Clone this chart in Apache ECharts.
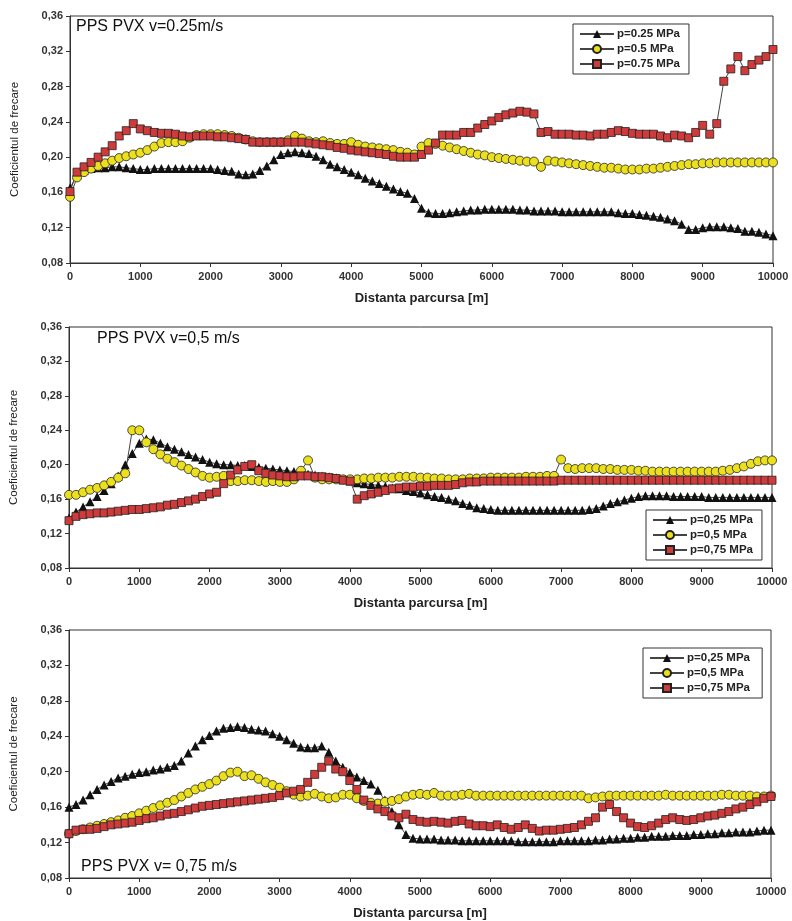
<!DOCTYPE html>
<html>
<head>
<meta charset="utf-8">
<script src="https://cdn.jsdelivr.net/npm/echarts@6/dist/echarts.min.js"></script>
<style>
  html, body { margin: 0; padding: 0; background: #fff; }
  #chart { width: 792px; height: 921px; }
</style>
</head>
<body>
<div id="chart"></div>
<script>
// Sampling distances [m]
const distance = [0,100,200,300,400,500,600,700,800,900,1000,1100,1200,1300,1400,1500,1600,1700,1800,1900,2000,2100,2200,2300,2400,2500,2600,2700,2800,2900,3000,3100,3200,3300,3400,3500,3600,3700,3800,3900,4000,4100,4200,4300,4400,4500,4600,4700,4800,4900,5000,5100,5200,5300,5400,5500,5600,5700,5800,5900,6000,6100,6200,6300,6400,6500,6600,6700,6800,6900,7000,7100,7200,7300,7400,7500,7600,7700,7800,7900,8000,8100,8200,8300,8400,8500,8600,8700,8800,8900,9000,9100,9200,9300,9400,9500,9600,9700,9800,9900,10000];

const xTicks = [0,1000,2000,3000,4000,5000,6000,7000,8000,9000,10000];
const yTicks = [0.08,0.12,0.16,0.20,0.24,0.28,0.32,0.36];

const panelTitles = ["PPS PVX v=0.25m/s", "PPS PVX v=0,5 m/s", "PPS PVX v= 0,75 m/s"];
const legendNames1 = ["p=0.25 MPa", "p=0.5 MPa", "p=0.75 MPa"];
const legendNames2 = ["p=0,25 MPa", "p=0,5 MPa", "p=0,75 MPa"];
const legendNames3 = ["p=0,25 MPa ", "p=0,5 MPa ", "p=0,75 MPa "];

// Panel 1: v = 0.25 m/s
const p1_025 = [0.165,0.180,0.185,0.187,0.188,0.188,0.189,0.189,0.188,0.187,0.186,0.186,0.187,0.187,0.187,0.187,0.187,0.187,0.187,0.187,0.187,0.186,0.185,0.184,0.181,0.180,0.181,0.185,0.190,0.197,0.203,0.205,0.206,0.205,0.204,0.201,0.197,0.192,0.189,0.186,0.183,0.180,0.176,0.173,0.170,0.167,0.164,0.161,0.159,0.153,0.142,0.137,0.136,0.136,0.137,0.138,0.139,0.140,0.140,0.141,0.141,0.141,0.141,0.141,0.140,0.140,0.139,0.139,0.139,0.139,0.138,0.138,0.138,0.138,0.138,0.138,0.138,0.138,0.137,0.136,0.136,0.135,0.134,0.133,0.132,0.130,0.128,0.124,0.118,0.118,0.120,0.121,0.121,0.121,0.120,0.119,0.116,0.116,0.115,0.113,0.111];
const p1_05 = [0.155,0.177,0.183,0.187,0.190,0.193,0.196,0.199,0.201,0.203,0.205,0.208,0.212,0.216,0.217,0.217,0.218,0.222,0.225,0.226,0.226,0.226,0.225,0.224,0.222,0.220,0.218,0.217,0.217,0.217,0.217,0.219,0.224,0.221,0.218,0.217,0.218,0.216,0.215,0.215,0.217,0.214,0.212,0.211,0.210,0.209,0.208,0.206,0.205,0.203,0.212,0.216,0.215,0.213,0.211,0.209,0.207,0.205,0.203,0.202,0.200,0.199,0.198,0.197,0.196,0.195,0.195,0.189,0.196,0.195,0.194,0.193,0.192,0.191,0.190,0.189,0.188,0.188,0.187,0.186,0.186,0.186,0.187,0.187,0.188,0.189,0.190,0.191,0.192,0.192,0.193,0.193,0.194,0.194,0.194,0.194,0.194,0.194,0.194,0.194,0.194];
const p1_075 = [0.161,0.183,0.189,0.194,0.200,0.206,0.213,0.224,0.230,0.238,0.232,0.230,0.228,0.227,0.227,0.226,0.224,0.223,0.224,0.224,0.224,0.223,0.223,0.222,0.221,0.220,0.217,0.217,0.217,0.217,0.217,0.217,0.217,0.217,0.216,0.215,0.214,0.213,0.211,0.210,0.208,0.207,0.206,0.205,0.204,0.203,0.201,0.200,0.200,0.200,0.203,0.208,0.216,0.225,0.225,0.225,0.228,0.228,0.233,0.237,0.241,0.245,0.248,0.250,0.252,0.251,0.249,0.228,0.229,0.226,0.226,0.226,0.225,0.225,0.224,0.226,0.226,0.228,0.230,0.229,0.227,0.226,0.226,0.226,0.224,0.222,0.225,0.224,0.222,0.228,0.236,0.226,0.238,0.286,0.300,0.314,0.298,0.305,0.310,0.314,0.322];

// Panel 2: v = 0.5 m/s
const p2_025 = [0.138,0.145,0.151,0.157,0.163,0.170,0.178,0.187,0.200,0.213,0.225,0.230,0.229,0.225,0.221,0.218,0.215,0.212,0.209,0.206,0.203,0.201,0.200,0.200,0.199,0.199,0.198,0.197,0.196,0.195,0.194,0.193,0.192,0.190,0.189,0.188,0.187,0.186,0.185,0.183,0.181,0.179,0.178,0.177,0.176,0.175,0.173,0.172,0.170,0.169,0.167,0.165,0.163,0.162,0.160,0.158,0.155,0.153,0.150,0.149,0.148,0.147,0.147,0.147,0.147,0.147,0.147,0.147,0.147,0.147,0.147,0.147,0.147,0.147,0.148,0.149,0.152,0.155,0.157,0.159,0.161,0.163,0.164,0.164,0.164,0.164,0.163,0.163,0.163,0.163,0.163,0.162,0.162,0.162,0.162,0.162,0.162,0.162,0.162,0.162,0.162];
const p2_05 = [0.165,0.165,0.168,0.171,0.173,0.176,0.180,0.185,0.190,0.240,0.240,0.226,0.218,0.212,0.207,0.203,0.199,0.195,0.191,0.187,0.185,0.186,0.187,0.181,0.181,0.182,0.182,0.181,0.180,0.181,0.180,0.180,0.183,0.193,0.205,0.185,0.183,0.183,0.183,0.183,0.183,0.183,0.184,0.184,0.185,0.185,0.185,0.186,0.186,0.186,0.185,0.185,0.184,0.184,0.183,0.183,0.183,0.184,0.184,0.184,0.185,0.185,0.185,0.185,0.185,0.186,0.186,0.186,0.187,0.187,0.206,0.196,0.195,0.196,0.196,0.196,0.195,0.195,0.194,0.194,0.194,0.193,0.193,0.192,0.192,0.192,0.192,0.192,0.192,0.192,0.192,0.192,0.192,0.193,0.194,0.196,0.198,0.201,0.204,0.205,0.205];
const p2_075 = [0.135,0.140,0.142,0.143,0.144,0.144,0.145,0.146,0.147,0.148,0.148,0.149,0.150,0.151,0.153,0.154,0.156,0.158,0.160,0.163,0.166,0.168,0.178,0.188,0.194,0.198,0.200,0.193,0.190,0.188,0.187,0.186,0.186,0.187,0.187,0.186,0.186,0.185,0.184,0.182,0.181,0.160,0.164,0.166,0.168,0.170,0.172,0.173,0.174,0.174,0.175,0.175,0.176,0.176,0.176,0.177,0.179,0.180,0.180,0.181,0.181,0.181,0.181,0.181,0.181,0.181,0.181,0.181,0.181,0.181,0.182,0.182,0.182,0.182,0.182,0.182,0.182,0.182,0.182,0.182,0.182,0.182,0.182,0.182,0.182,0.182,0.182,0.182,0.182,0.182,0.182,0.182,0.182,0.182,0.182,0.182,0.182,0.182,0.182,0.182,0.182];

// Panel 3: v = 0.75 m/s
const p3_025 = [0.160,0.163,0.168,0.174,0.180,0.185,0.189,0.193,0.195,0.197,0.199,0.200,0.202,0.203,0.205,0.207,0.212,0.221,0.229,0.236,0.241,0.246,0.249,0.250,0.251,0.250,0.248,0.247,0.246,0.243,0.240,0.236,0.232,0.228,0.227,0.227,0.229,0.222,0.212,0.205,0.199,0.194,0.190,0.186,0.179,0.168,0.155,0.140,0.129,0.125,0.124,0.124,0.124,0.123,0.123,0.123,0.122,0.122,0.122,0.122,0.122,0.122,0.122,0.122,0.121,0.121,0.121,0.121,0.121,0.121,0.122,0.122,0.122,0.122,0.122,0.123,0.123,0.124,0.124,0.125,0.125,0.126,0.126,0.127,0.127,0.127,0.128,0.128,0.128,0.129,0.129,0.130,0.130,0.131,0.131,0.132,0.132,0.132,0.133,0.134,0.134];
const p3_05 = [0.130,0.133,0.135,0.137,0.139,0.141,0.143,0.145,0.148,0.150,0.153,0.156,0.159,0.162,0.165,0.168,0.172,0.176,0.180,0.183,0.186,0.190,0.195,0.199,0.200,0.195,0.196,0.192,0.188,0.185,0.182,0.178,0.174,0.172,0.173,0.175,0.172,0.170,0.171,0.174,0.174,0.170,0.167,0.165,0.164,0.166,0.167,0.169,0.172,0.174,0.175,0.174,0.176,0.173,0.173,0.173,0.174,0.175,0.173,0.173,0.173,0.173,0.173,0.173,0.173,0.173,0.173,0.173,0.173,0.173,0.173,0.173,0.173,0.173,0.170,0.171,0.172,0.173,0.173,0.173,0.173,0.173,0.173,0.173,0.173,0.174,0.173,0.173,0.173,0.173,0.173,0.173,0.173,0.174,0.174,0.173,0.173,0.173,0.172,0.172,0.173];
const p3_075 = [0.130,0.134,0.135,0.135,0.136,0.138,0.140,0.141,0.142,0.143,0.145,0.147,0.148,0.150,0.152,0.153,0.155,0.157,0.159,0.161,0.162,0.163,0.164,0.165,0.166,0.167,0.168,0.169,0.170,0.171,0.173,0.176,0.178,0.180,0.188,0.197,0.205,0.212,0.203,0.200,0.190,0.180,0.168,0.162,0.158,0.155,0.150,0.148,0.152,0.146,0.144,0.143,0.144,0.143,0.142,0.144,0.145,0.141,0.139,0.139,0.138,0.140,0.137,0.135,0.137,0.140,0.136,0.133,0.134,0.134,0.135,0.136,0.137,0.140,0.144,0.148,0.160,0.163,0.155,0.148,0.142,0.138,0.137,0.139,0.142,0.146,0.148,0.146,0.145,0.146,0.148,0.150,0.151,0.153,0.155,0.158,0.160,0.163,0.166,0.170,0.172];

const FONT = '"Liberation Sans", Arial, sans-serif';
const colBlack = '#111111', colYellow = '#ece01e', colRed = '#cf3b3b';

function pairs(vals) { return distance.map((d, i) => [d, vals[i]]); }

const grids = [
  { left: 70, top: 16, right: 19, height: 247 },
  { left: 68, top: 327, right: 20, height: 241 },
  { left: 67, top: 630, right: 21, height: 248 }
];

const xAxes = grids.map((g, i) => ({
  gridIndex: i, type: 'value', min: xTicks[0], max: xTicks[xTicks.length - 1], interval: 1000,
  name: 'Distanta parcursa [m]', nameLocation: 'middle', nameGap: 29,
  nameTextStyle: { fontFamily: FONT, fontWeight: 'bold', fontSize: 13, color: '#222' },
  axisLine: { lineStyle: { color: '#333', width: 1 } },
  axisTick: { length: 4, lineStyle: { color: '#333' } },
  axisLabel: { fontFamily: FONT, fontWeight: 'bold', fontSize: 11, color: '#333', margin: 8,
    formatter: v => String(v) },
  splitLine: { show: false }
}));

const yAxes = grids.map((g, i) => ({
  gridIndex: i, type: 'value', min: yTicks[0], max: yTicks[yTicks.length - 1], interval: 0.04,
  name: 'Coeficientul de frecare', nameLocation: 'middle', nameGap: 49, nameRotate: 90,
  nameTextStyle: { fontFamily: FONT, fontSize: 11.5, color: '#222' },
  axisLine: { lineStyle: { color: '#333', width: 1 } },
  axisTick: { length: 4, lineStyle: { color: '#333' } },
  axisLabel: { fontFamily: FONT, fontWeight: 'bold', fontSize: 11, color: '#333', margin: 7,
    formatter: v => v.toFixed(2).replace('.', ',') },
  splitLine: { show: false }
}));

function mkSeries(name, vals, idx, symbol, color, size) {
  return {
    name: name, type: 'line', xAxisIndex: idx, yAxisIndex: idx,
    data: pairs(vals), symbol: symbol, symbolSize: size, showAllSymbol: true,
    lineStyle: { color: '#444', width: 1 },
    itemStyle: { color: color, borderColor: '#222', borderWidth: symbol === 'triangle' ? 0 : 0.8 },
    emphasis: { disabled: true }
  };
}

const names = [legendNames1, legendNames2, legendNames3];
const panels = [[p1_025, p1_05, p1_075], [p2_025, p2_05, p2_075], [p3_025, p3_05, p3_075]];
const series = [];
panels.forEach((pv, i) => {
  series.push(mkSeries(names[i][0], pv[0], i, 'triangle', colBlack, 9));
  series.push(mkSeries(names[i][1], pv[1], i, 'circle', colYellow, 9));
  series.push(mkSeries(names[i][2], pv[2], i, 'rect', colRed, 8));
});

const legendPos = [
  { left: 573, top: 24 },
  { left: 646, top: 510 },
  { left: 643, top: 648 }
];
const legends = legendPos.map((p, i) => ({
  data: names[i], left: p.left, top: p.top, orient: 'vertical',
  borderColor: '#333', borderWidth: 1, padding: [4, 9, 4, 6], itemGap: 3,
  itemWidth: 34, itemHeight: 10, backgroundColor: '#fff',
  textStyle: { fontFamily: FONT, fontWeight: 'bold', fontSize: 11.5, color: '#222', padding: [0, 0, 0, -2] }
}));

const titles = [
  { text: panelTitles[0], left: 76, top: 19 },
  { text: panelTitles[1], left: 97, top: 331 },
  { text: panelTitles[2], left: 81, top: 859 }
].map(t => ({ text: t.text, left: t.left, top: t.top, padding: 0,
  textStyle: { fontFamily: FONT, fontWeight: 'normal', fontSize: 16, color: '#111' } }));

const chart = echarts.init(document.getElementById('chart'), null, { renderer: 'canvas' });
chart.setOption({
  animation: false,
  backgroundColor: '#fff',
  title: titles,
  legend: legends,
  grid: grids.map(g => Object.assign({ show: true, borderColor: '#333', borderWidth: 1, backgroundColor: 'transparent' }, g)),
  xAxis: xAxes,
  yAxis: yAxes,
  series: series
});
</script>
</body>
</html>
